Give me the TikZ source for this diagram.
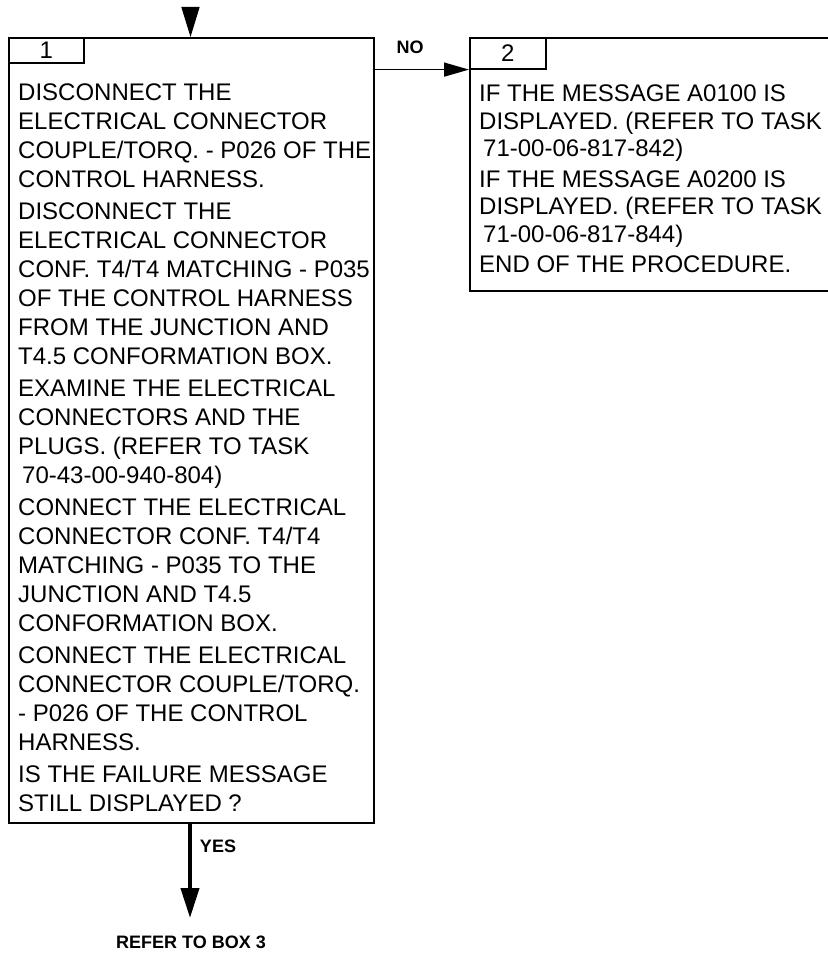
\documentclass[tikz,border=0pt]{standalone}
\usepackage{fontspec}
\setmainfont{Liberation Sans}
\usetikzlibrary{arrows.meta,positioning}

\tikzset{
  box/.style={draw, line width=2pt, anchor=north west, inner sep=0pt},
  tab/.style={draw, line width=1.6pt, anchor=north west, inner sep=0pt,
    font=\fontsize{24}{28}\selectfont},
  txt/.style={anchor=north west, inner sep=0pt, align=left},
  lbl/.style={inner sep=0pt, font=\fontsize{18}{21}\selectfont\bfseries},
}

\begin{document}
\begin{tikzpicture}[x=1pt, y=-1pt]
\useasboundingbox (0,0) rectangle (827,963);

% boxes
\node[box, minimum width=365pt, minimum height=785pt] (box1) at (8,37) {};
\node[tab, minimum width=75pt, minimum height=25pt] (tab1) at (box1.north west) {1};
\node[box, minimum width=372pt, minimum height=253pt] (box2) at (469,37) {};
\node[tab, minimum width=76pt, minimum height=31pt] (tab2) at (box2.north west) {2};

% texts
\node[txt, font=\fontsize{24}{29}\selectfont] (txt1) at (18,84) {%
DISCONNECT THE\\
ELECTRICAL CONNECTOR\\
COUPLE/TORQ. - P026 OF THE\\
CONTROL HARNESS.\\[3pt]
DISCONNECT THE\\
ELECTRICAL CONNECTOR\\
CONF. T4/T4 MATCHING - P035\\
OF THE CONTROL HARNESS\\
FROM THE JUNCTION AND\\
T4.5 CONFORMATION BOX.\\[3pt]
EXAMINE THE ELECTRICAL\\
CONNECTORS AND THE\\
PLUGS. (REFER TO TASK\\
\hspace*{4pt}70-43-00-940-804)\\[3pt]
CONNECT THE ELECTRICAL\\
CONNECTOR CONF. T4/T4\\
MATCHING - P035 TO THE\\
JUNCTION AND T4.5\\
CONFORMATION BOX.\\[3pt]
CONNECT THE ELECTRICAL\\
CONNECTOR COUPLE/TORQ.\\
- P026 OF THE CONTROL\\
HARNESS.\\[3pt]
IS THE FAILURE MESSAGE\\
STILL DISPLAYED ?};

\node[txt, font=\fontsize{24}{27.5}\selectfont] (txt2) at (479,85) {%
IF THE MESSAGE A0100 IS\\
DISPLAYED. (REFER TO TASK\\
\hspace*{4pt}71-00-06-817-842)\\[3pt]
IF THE MESSAGE A0200 IS\\
DISPLAYED. (REFER TO TASK\\
\hspace*{4pt}71-00-06-817-844)\\[3pt]
END OF THE PROCEDURE.};

% labels
\node[lbl] (no) at (410,47) {NO};
\node[lbl] (yes) at (218,846) {YES};
\node[lbl] (next) at (191,942) {REFER TO BOX 3};

% arrows
\coordinate (entry) at (190.5,7);
\coordinate (exit) at (190,918);
\draw[-{Triangle[length=30pt,width=18pt]}, line width=1.5pt] (entry) -- (entry |- box1.north);
\draw[-{Triangle[length=25pt,width=14pt]}, line width=1.5pt] (box1.east |- tab2.south) -- (tab2.south west);
\draw[-{Triangle[length=30pt,width=18pt]}, line width=4pt] (exit |- box1.south) -- (exit);

\end{tikzpicture}
\end{document}
